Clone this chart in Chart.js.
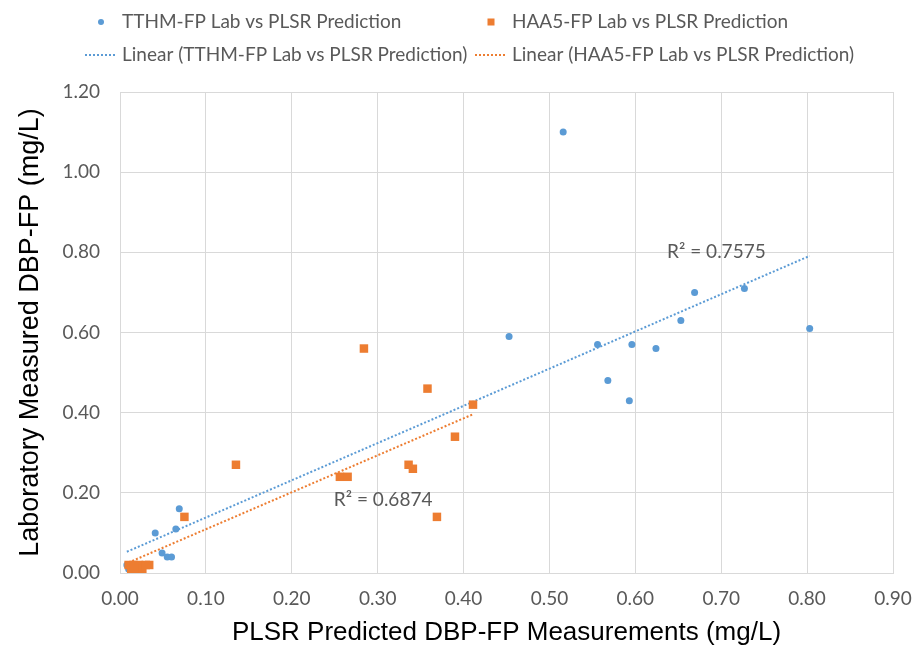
<!DOCTYPE html>
<html>
<head>
<meta charset="utf-8">
<title>DBP-FP: PLSR vs lab</title>
<script src="https://cdn.jsdelivr.net/npm/chart.js@4.4.1/dist/chart.umd.min.js"></script>
<style>
  html, body { margin: 0; padding: 0; background: #fff; }
  #wrap { width: 913px; height: 656px; }
</style>
</head>
<body>
<div id="wrap"><canvas id="dbpChart" width="913" height="656"></canvas></div>
<script>
// TTHM-FP: PLSR prediction (x) vs lab value (y), mg/L
const tthmX = [0.008, 0.010, 0.041, 0.049, 0.055, 0.060, 0.065, 0.069, 0.453, 0.516,
               0.556, 0.568, 0.593, 0.596, 0.624, 0.653, 0.669, 0.727, 0.803];
const tthmY = [0.02, 0.01, 0.10, 0.05, 0.04, 0.04, 0.11, 0.16, 0.59, 1.10,
               0.57, 0.48, 0.43, 0.57, 0.56, 0.63, 0.70, 0.71, 0.61];

// HAA5-FP: PLSR prediction (x) vs lab value (y), mg/L
const haa5X = [0.010, 0.013, 0.016, 0.019, 0.022, 0.026, 0.030, 0.034, 0.075, 0.135,
               0.256, 0.265, 0.284, 0.336, 0.341, 0.358, 0.369, 0.390, 0.411];
const haa5Y = [0.02, 0.01, 0.02, 0.01, 0.02, 0.01, 0.02, 0.02, 0.14, 0.27,
               0.24, 0.24, 0.56, 0.27, 0.26, 0.46, 0.14, 0.34, 0.42];

// linear trendlines: [intercept, slope] and the R² reported for each
const tthmTrend = [0.0456, 0.9284];
const haa5Trend = [0.017, 0.922];
const tthmR2 = '0.7575';
const haa5R2 = '0.6874';

const seriesNames = ['TTHM-FP Lab vs PLSR Prediction', 'HAA5-FP Lab vs PLSR Prediction'];

const BLUE = '#5B9BD5';
const ORANGE = '#ED7D31';
const GREY_TEXT = '#595959';
const GRID = '#d9d9d9';
const LABEL_FONT = 'Lato, "Open Sans", sans-serif';

function toPoints(xs, ys) {
  return xs.map((x, i) => ({ x: x, y: ys[i] }));
}

// trendline runs from the smallest to the largest x of its series
function trendPoints(xs, coef) {
  const lo = Math.min(...xs), hi = Math.max(...xs);
  return [lo, hi].map(x => ({ x: x, y: coef[0] + coef[1] * x }));
}

// legend in a 2x2 grid plus the R² notes
const excelLegend = {
  id: 'excelLegend',
  afterDraw(chart) {
    const ctx = chart.ctx;
    const sx = chart.scales.x, sy = chart.scales.y;
    ctx.save();
    ctx.font = '19px ' + LABEL_FONT;
    ctx.fillStyle = GREY_TEXT;
    ctx.textBaseline = 'middle';
    ctx.textAlign = 'left';

    const cols = [{ mark: 101, text: 122, color: BLUE }, { mark: 491, text: 512, color: ORANGE }];
    const rows = [22, 55];

    cols.forEach((c, i) => {
      // marker row
      ctx.fillStyle = c.color;
      if (i === 0) {
        ctx.beginPath();
        ctx.arc(c.mark, rows[0], 3, 0, Math.PI * 2);
        ctx.fill();
      } else {
        ctx.fillRect(c.mark - 3.5, rows[0] - 3.5, 7, 7);
      }
      ctx.fillStyle = GREY_TEXT;
      ctx.fillText(seriesNames[i], c.text, rows[0]);

      // trendline row
      ctx.strokeStyle = c.color;
      ctx.lineWidth = 2;
      ctx.setLineDash([2, 2]);
      ctx.beginPath();
      ctx.moveTo(c.mark - 16, rows[1]);
      ctx.lineTo(c.mark + 16, rows[1]);
      ctx.stroke();
      ctx.setLineDash([]);
      ctx.fillText('Linear (' + seriesNames[i] + ')', c.text, rows[1]);
    });

    // R² notes next to each trendline
    ctx.fillText('R\u00B2 = ' + tthmR2, sx.getPixelForValue(0.637), sy.getPixelForValue(0.80));
    ctx.fillText('R\u00B2 = ' + haa5R2, sx.getPixelForValue(0.249), sy.getPixelForValue(0.182));
    ctx.restore();
  }
};

const ctx = document.getElementById('dbpChart');

new Chart(ctx, {
  type: 'scatter',
  data: {
    datasets: [
      {
        label: seriesNames[1],
        data: toPoints(haa5X, haa5Y),
        pointStyle: 'rect',
        pointRadius: 6,
        pointHoverRadius: 6,
        backgroundColor: ORANGE,
        borderColor: ORANGE,
        borderWidth: 0,
        order: 0
      },
      {
        label: seriesNames[0],
        data: toPoints(tthmX, tthmY),
        pointStyle: 'circle',
        pointRadius: 3.5,
        pointHoverRadius: 3.5,
        backgroundColor: BLUE,
        borderColor: BLUE,
        borderWidth: 0,
        order: 1
      },
      {
        label: 'Linear (' + seriesNames[0] + ')',
        data: trendPoints(tthmX, tthmTrend),
        showLine: true,
        borderColor: BLUE,
        borderWidth: 2,
        borderDash: [2, 2],
        pointRadius: 0,
        order: 2
      },
      {
        label: 'Linear (' + seriesNames[1] + ')',
        data: trendPoints(haa5X, haa5Trend),
        showLine: true,
        borderColor: ORANGE,
        borderWidth: 2,
        borderDash: [2, 2],
        pointRadius: 0,
        order: 3
      }
    ]
  },
  options: {
    responsive: false,
    animation: false,
    layout: { padding: { top: 92, right: 20, bottom: 0, left: 0 } },
    plugins: {
      legend: { display: false },
      tooltip: { enabled: false }
    },
    scales: {
      x: {
        type: 'linear',
        min: 0,
        max: 0.9,
        // fixed axis height; the end labels fit in the layout padding
        afterFit: s => { s.height = 83; s.paddingLeft = 0; s.paddingRight = 0; },
        grid: { color: GRID, lineWidth: 1, drawTicks: false },
        border: { color: GRID, width: 1 },
        ticks: {
          stepSize: 0.1,
          padding: 14,
          color: GREY_TEXT,
          font: { family: LABEL_FONT, size: 19 },
          callback: v => v.toFixed(2)
        },
        title: {
          display: true,
          text: 'PLSR Predicted DBP-FP Measurements (mg/L)',
          color: '#000',
          font: { family: '"Liberation Sans", Arial, sans-serif', size: 26 },
          padding: { top: 0, bottom: 8 }
        }
      },
      y: {
        type: 'linear',
        min: 0,
        max: 1.2,
        afterFit: s => { s.width = 120; },
        grid: { color: GRID, lineWidth: 1, drawTicks: false },
        border: { color: GRID, width: 1 },
        ticks: {
          stepSize: 0.2,
          padding: 20,
          color: GREY_TEXT,
          font: { family: LABEL_FONT, size: 19 },
          callback: v => v.toFixed(2)
        },
        title: {
          display: true,
          text: 'Laboratory Measured DBP-FP (mg/L)',
          color: '#000',
          font: { family: '"Liberation Sans", Arial, sans-serif', size: 27 },
          padding: { top: 14, bottom: 0 }
        }
      }
    }
  },
  plugins: [excelLegend]
});
</script>
</body>
</html>
